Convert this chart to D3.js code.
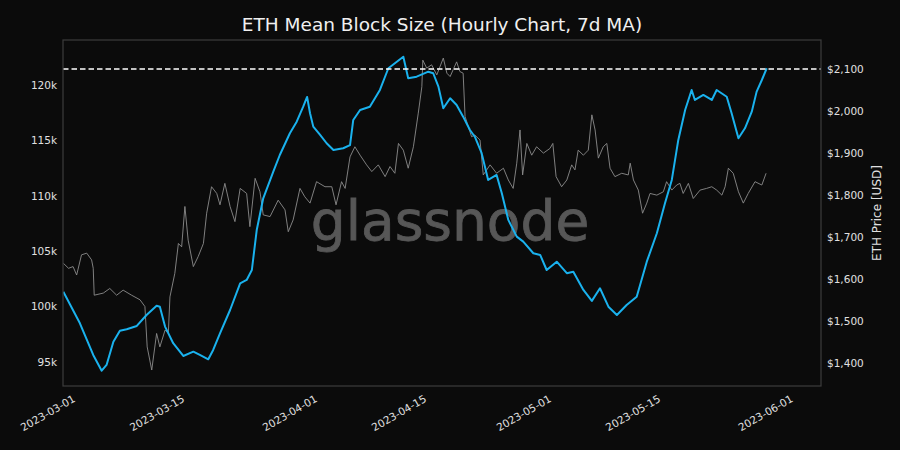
<!DOCTYPE html>
<html>
<head>
<meta charset="utf-8">
<script src="https://cdn.jsdelivr.net/npm/d3@7"></script>
<style>
  html, body { margin: 0; padding: 0; background: #0b0b0b; }
  svg { display: block; }
  text { font-family: "DejaVu Sans", sans-serif; }
</style>
</head>
<body>
<svg id="chart" width="900" height="450"></svg>
<script>
// ---------- DATA ----------
const title = "ETH Mean Block Size (Hourly Chart, 7d MA)";
const rightAxisLabel = "ETH Price [USD]";
const watermark = "glassnode";

// Mean block size, 7d MA (bytes, shown in k)
const blockDates = [
  "2023-02-27T07","2023-03-01T10","2023-03-03T03","2023-03-04T05","2023-03-04T20","2023-03-05T17",
  "2023-03-06T13","2023-03-07T10","2023-03-08T17","2023-03-09T23","2023-03-11T06","2023-03-11T16",
  "2023-03-12T08","2023-03-13T09","2023-03-14T16","2023-03-15T23","2023-03-16T19","2023-03-17T21",
  "2023-03-18T12","2023-03-19T09","2023-03-20T16","2023-03-21T23","2023-03-22T19","2023-03-23T11",
  "2023-03-24T02","2023-03-24T22","2023-03-26T05","2023-03-27T01","2023-03-28T08","2023-03-29T05",
  "2023-03-30T01","2023-03-30T13","2023-03-30T22","2023-03-31T08","2023-04-01T05","2023-04-02T01",
  "2023-04-02T22","2023-04-04T04","2023-04-05T01","2023-04-05T11","2023-04-06T08","2023-04-07T14",
  "2023-04-08T21","2023-04-09T23","2023-04-11T01","2023-04-11T21","2023-04-12T12","2023-04-13T14",
  "2023-04-15T02","2023-04-15T17","2023-04-16T09","2023-04-17T00","2023-04-17T21","2023-04-18T17",
  "2023-04-19T13","2023-04-20T10","2023-04-21T01","2023-04-21T22","2023-04-22T18","2023-04-23T20",
  "2023-04-24T12","2023-04-25T08","2023-04-26T10","2023-04-27T06","2023-04-28T13","2023-04-29T10",
  "2023-04-30T06","2023-05-01T13","2023-05-02T20","2023-05-03T16","2023-05-04T23","2023-05-06T01",
  "2023-05-07T02","2023-05-08T04","2023-05-09T06","2023-05-10T12","2023-05-11T19","2023-05-13T02",
  "2023-05-14T09","2023-05-15T10","2023-05-16T07","2023-05-17T03","2023-05-18T00","2023-05-18T20",
  "2023-05-19T06","2023-05-20T08","2023-05-21T10","2023-05-22T01","2023-05-23T08","2023-05-23T23",
  "2023-05-24T20","2023-05-25T16","2023-05-26T13","2023-05-27T04","2023-05-27T20","2023-05-28T11"
];
const blockSizeK = [
  101.34, 98.49, 95.63, 94.21, 94.73, 96.83,
  97.82, 97.95, 98.25, 99.24, 100.08, 99.99,
  98.19, 96.69, 95.54, 95.93, 95.63, 95.24,
  96.08, 97.59, 99.69, 102.10, 102.40, 103.30,
  106.91, 109.77, 112.18, 113.68, 115.64, 116.69,
  118.04, 118.92, 117.45, 116.24, 115.49, 114.74,
  114.13, 114.29, 114.58, 116.84, 117.74, 118.04,
  119.55, 121.51, 122.10, 122.55, 120.60, 120.75,
  121.20, 121.06, 119.85, 117.90, 118.80, 118.19,
  117.14, 115.94, 115.33, 113.84, 111.43, 111.88,
  110.23, 107.82, 106.31, 105.86, 104.81, 104.66,
  103.30, 104.05, 103.01, 103.15, 101.50, 100.51,
  101.65, 99.99, 99.24, 100.14, 100.89, 104.05,
  106.62, 109.32, 111.43, 115.04, 117.74, 119.55,
  118.65, 119.10, 118.65, 119.55, 118.94, 117.45,
  115.19, 116.09, 117.59, 119.40, 120.45, 121.51
];

// ETH price (USD)
const priceDates = [
  "2023-02-27T07","2023-02-27T23","2023-02-28T13","2023-03-01T00","2023-03-01T15","2023-03-02T07",
  "2023-03-02T22","2023-03-03T03","2023-03-03T06","2023-03-04T10","2023-03-05T06","2023-03-06T03",
  "2023-03-06T23","2023-03-08T01","2023-03-09T03","2023-03-09T18","2023-03-10T01","2023-03-10T15",
  "2023-03-11T06","2023-03-11T16","2023-03-12T08","2023-03-12T18","2023-03-12T23","2023-03-13T14",
  "2023-03-14T01","2023-03-14T11","2023-03-14T21","2023-03-15T07","2023-03-15T23","2023-03-16T14",
  "2023-03-17T06","2023-03-17T16","2023-03-18T07","2023-03-18T23","2023-03-19T09","2023-03-20T00",
  "2023-03-20T16","2023-03-21T07","2023-03-21T23","2023-03-22T19","2023-03-23T05","2023-03-23T21",
  "2023-03-24T12","2023-03-24T22","2023-03-25T19","2023-03-26T20","2023-03-27T17","2023-03-28T03",
  "2023-03-28T18","2023-03-29T15","2023-03-30T06","2023-03-30T22","2023-03-31T18","2023-04-01T20",
  "2023-04-02T17","2023-04-03T06","2023-04-03T23","2023-04-04T10","2023-04-05T01","2023-04-05T16",
  "2023-04-06T08","2023-04-07T04","2023-04-07T20","2023-04-08T16","2023-04-09T13","2023-04-10T04",
  "2023-04-10T19","2023-04-11T06","2023-04-11T21","2023-04-12T12","2023-04-13T04","2023-04-13T19",
  "2023-04-14T06","2023-04-14T09","2023-04-14T21","2023-04-15T12","2023-04-16T04","2023-04-17T00",
  "2023-04-17T11","2023-04-17T21","2023-04-18T17","2023-04-19T03","2023-04-19T13","2023-04-19T19",
  "2023-04-20T05","2023-04-20T15","2023-04-21T01","2023-04-21T17","2023-04-22T03","2023-04-23T00",
  "2023-04-23T20","2023-04-24T17","2023-04-25T08","2023-04-25T23","2023-04-26T10","2023-04-26T20",
  "2023-04-27T04","2023-04-27T17","2023-04-28T08","2023-04-28T23","2023-04-29T20","2023-04-30T16",
  "2023-05-01T01","2023-05-01T11","2023-05-02T04","2023-05-02T20","2023-05-03T11","2023-05-03T21",
  "2023-05-04T07","2023-05-04T23","2023-05-05T14","2023-05-06T01","2023-05-06T11","2023-05-06T21",
  "2023-05-07T12","2023-05-07T23","2023-05-08T09","2023-05-09T00","2023-05-09T21","2023-05-10T17",
  "2023-05-10T23","2023-05-11T09","2023-05-12T00","2023-05-12T13","2023-05-13T02","2023-05-13T12",
  "2023-05-14T09","2023-05-15T05","2023-05-15T15","2023-05-16T07","2023-05-16T22","2023-05-17T08",
  "2023-05-17T18","2023-05-18T10","2023-05-19T01","2023-05-19T22","2023-05-20T18","2023-05-21T10",
  "2023-05-22T01","2023-05-22T17","2023-05-23T03","2023-05-23T13","2023-05-24T04","2023-05-24T20",
  "2023-05-25T11","2023-05-26T02","2023-05-26T23","2023-05-27T20","2023-05-28T09"
];
const priceUSD = [
  1638, 1626, 1630, 1610, 1658, 1662,
  1646, 1626, 1562, 1567, 1578, 1562,
  1574, 1562, 1551, 1535, 1439, 1384,
  1471, 1439, 1479, 1471, 1558, 1614,
  1685, 1677, 1773, 1693, 1630, 1654,
  1685, 1757, 1820, 1804, 1777, 1828,
  1773, 1737, 1816, 1804, 1725, 1840,
  1808, 1753, 1749, 1788, 1765, 1713,
  1741, 1816, 1796, 1781, 1832, 1820,
  1820, 1777, 1832, 1816, 1891, 1915,
  1895, 1872, 1856, 1872, 1844, 1868,
  1852, 1923, 1907, 1864, 1915, 1995,
  2058, 2121, 2102, 2110, 2086, 2126,
  2090, 2082, 2117, 2094, 2090, 1987,
  1963, 1939, 1943, 1931, 1848, 1872,
  1852, 1864, 1836, 1816, 1876, 1955,
  1848, 1923, 1895, 1915, 1900, 1911,
  1923, 1844, 1820, 1836, 1872, 1860,
  1907, 1895, 1907, 1991, 1955, 1888,
  1915, 1923, 1864, 1844, 1852, 1848,
  1876, 1836, 1812, 1757, 1781, 1804,
  1800, 1808, 1832, 1812, 1824, 1828,
  1804, 1828, 1792, 1812, 1816, 1820,
  1812, 1800, 1820, 1864, 1852, 1808,
  1781, 1804, 1832, 1824, 1852
];

const leftTicks = [95, 100, 105, 110, 115, 120];            // k
const rightTicks = [1400, 1500, 1600, 1700, 1800, 1900, 2000, 2100];
const dateTicks = ["2023-03-01","2023-03-15","2023-04-01","2023-04-15","2023-05-01","2023-05-15","2023-06-01"];
const xDomain = ["2023-02-27T06", "2023-06-04T10"];
const leftDomain = [92.83, 124.06];
const rightDomain = [1346, 2169];
const refLevelK = 121.45; // dashed reference line

// ---------- DRAW ----------
const parseH = d3.utcParse("%Y-%m-%dT%H");
const parseD = d3.utcParse("%Y-%m-%d");
const svg = d3.select("#chart");
const W = 900, H = 450;
const m = { left: 63, right: 821, top: 40, bottom: 386 };

svg.append("rect").attr("width", W).attr("height", H).attr("fill", "#0b0b0b");

const x = d3.scaleUtc().domain(xDomain.map(parseH)).range([m.left, m.right]);
const yL = d3.scaleLinear().domain(leftDomain).range([m.bottom, m.top]);
const yR = d3.scaleLinear().domain(rightDomain).range([m.bottom, m.top]);

// watermark
svg.append("text")
  .attr("x", 450).attr("y", 240)
  .attr("text-anchor", "middle")
  .attr("font-size", 55)
  .attr("font-weight", "normal")
  .attr("fill", "#575757")
  .attr("stroke", "#575757")
  .attr("stroke-width", 0.8)
  .text(watermark);

// clip
svg.append("clipPath").attr("id", "clip")
  .append("rect").attr("x", m.left).attr("y", m.top)
  .attr("width", m.right - m.left).attr("height", m.bottom - m.top);

const g = svg.append("g").attr("clip-path", "url(#clip)");

const priceData = priceDates.map((d, i) => ({ t: parseH(d), v: priceUSD[i] }));
const blockData = blockDates.map((d, i) => ({ t: parseH(d), v: blockSizeK[i] }));

g.append("path")
  .datum(priceData)
  .attr("fill", "none")
  .attr("stroke", "#8c8c8c")
  .attr("stroke-width", 0.9)
  .attr("d", d3.line().x(d => x(d.t)).y(d => yR(d.v)));

g.append("path")
  .datum(blockData)
  .attr("fill", "none")
  .attr("stroke", "#1ab2ee")
  .attr("stroke-width", 2)
  .attr("stroke-linejoin", "round")
  .attr("d", d3.line().x(d => x(d.t)).y(d => yL(d.v)));

// dashed reference line
g.append("line")
  .attr("x1", m.left).attr("x2", m.right)
  .attr("y1", yL(refLevelK)).attr("y2", yL(refLevelK))
  .attr("stroke", "#ffffff")
  .attr("stroke-width", 1.5)
  .attr("stroke-dasharray", "5.5,3");

// frame
svg.append("rect")
  .attr("x", m.left).attr("y", m.top)
  .attr("width", m.right - m.left).attr("height", m.bottom - m.top)
  .attr("fill", "none").attr("stroke", "#3d3d3d").attr("stroke-width", 1.2);

// left axis
const axL = svg.append("g").attr("transform", `translate(${m.left},0)`)
  .call(d3.axisLeft(yL).tickValues(leftTicks).tickFormat(d => d + "k").tickSize(0).tickPadding(6));
axL.select(".domain").remove();
axL.selectAll("text").attr("fill", "#e0e0e0").attr("font-size", 10.5).attr("font-family", "DejaVu Sans");

// right axis
const axR = svg.append("g").attr("transform", `translate(${m.right},0)`)
  .call(d3.axisRight(yR).tickValues(rightTicks).tickFormat(d => "$" + d3.format(",")(d)).tickSize(0).tickPadding(6));
axR.select(".domain").remove();
axR.selectAll("text").attr("fill", "#e0e0e0").attr("font-size", 10.5).attr("font-family", "DejaVu Sans");

// bottom axis
const axB = svg.append("g").attr("transform", `translate(0,${m.bottom})`)
  .call(d3.axisBottom(x).tickValues(dateTicks.map(parseD)).tickFormat(d3.utcFormat("%Y-%m-%d")).tickSize(0));
axB.select(".domain").remove();
axB.selectAll("text")
  .attr("fill", "#e0e0e0").attr("font-size", 10.5).attr("font-family", "DejaVu Sans")
  .attr("text-anchor", "end")
  .attr("dy", null)
  .attr("y", 0)
  .attr("transform", "translate(-1,15) rotate(-30)");

// right axis label
svg.append("text")
  .attr("transform", `translate(881,213) rotate(-90)`)
  .attr("text-anchor", "middle")
  .attr("fill", "#e0e0e0")
  .attr("font-size", 12)
  .text(rightAxisLabel);

// title
svg.append("text")
  .attr("x", 442).attr("y", 31)
  .attr("text-anchor", "middle")
  .attr("fill", "#f0f0f0")
  .attr("font-size", 18.5)
  .text(title);
</script>
</body>
</html>
